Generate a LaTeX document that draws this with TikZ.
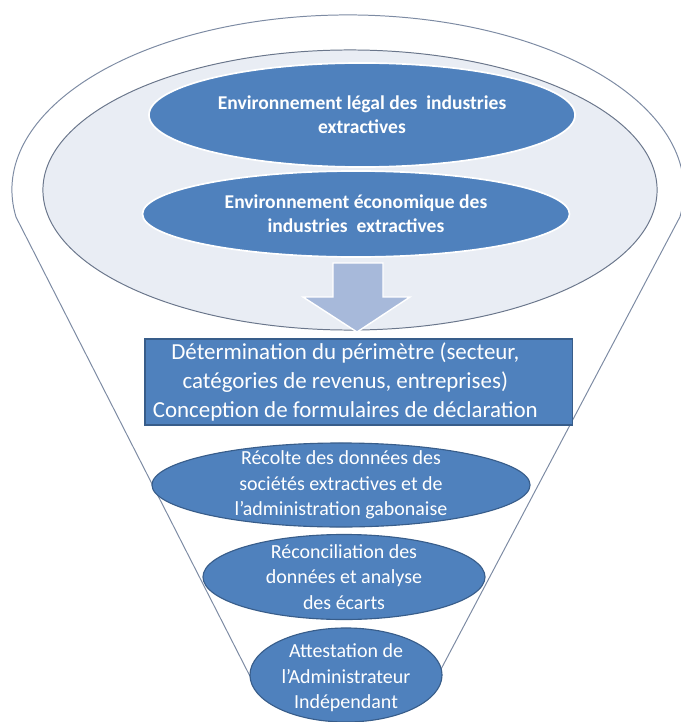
\documentclass[tikz,border=0pt]{standalone}
\usepackage{fontspec}
\setmainfont{Carlito}
\usetikzlibrary{shapes.geometric}
\definecolor{cblue}{HTML}{4F81BD}
\definecolor{cnavy}{HTML}{385D8A}
\definecolor{cpale}{HTML}{E9EDF4}
\definecolor{csteel}{HTML}{A7B9DA}
\definecolor{cgrey}{HTML}{7D8BA3}
\tikzset{
  oval/.style={ellipse, draw=cnavy, fill=cblue, line width=0.8pt, inner sep=0pt},
  bandoval/.style={oval, draw=white, line width=1.2pt},
  boxed/.style={rectangle, draw=cnavy, fill=cblue, line width=0.8pt, inner sep=0pt},
  headtext/.style={text=white, align=center, font=\fontsize{13.9}{17}\selectfont\bfseries},
  ovaltext/.style={text=white, align=center, font=\fontsize{14.2}{18.3}\selectfont},
  boxtext/.style={text=white, align=center, font=\fontsize{16.3}{20.5}\selectfont},
}

\begin{document}
\begin{tikzpicture}[x=0.025cm, y=-0.025cm]
  \useasboundingbox (0,0) rectangle (680,722);
  % funnel outline
  \draw[cgrey, line width=0.7pt] (257,690) -- (16,217)
    arc[start angle=171.1, end angle=368.9, x radius=336, y radius=175] -- (430,690);
  \node[ellipse, draw=cgrey!85!black, fill=cpale, line width=0.7pt, minimum width=15.35cm, minimum height=7cm] (band) at (350,190) {};
  \node[bandoval, minimum width=10.65cm, minimum height=2.6cm,
    label={[headtext]center:Environnement légal des\ \ industries\\extractives}] (legal) at (362,115) {};
  \node[bandoval, minimum width=10.675cm, minimum height=2.15cm,
    label={[headtext]center:Environnement économique des\\industries\ \ extractives}] (econ) at (356,214) {};
  \filldraw[fill=csteel, draw=white, line width=1pt] (333,263) -- (383,263) -- (383,297) -- (410,297)
    -- (357,332) -- (303,297) -- (333,297) -- cycle;
  \node[boxed, minimum width=10.675cm, minimum height=2.15cm,
    label={[boxtext, xshift=-0.33cm]center:Détermination du périmètre (secteur,\\catégories de revenus, entreprises)\\Conception de formulaires de déclaration}] (scope) at (358.5,382) {};
  \node[oval, minimum width=9.45cm, minimum height=2.1cm,
    label={[ovaltext]center:Récolte des données des\\sociétés extractives et de\\l’administration gabonaise}] (collect) at (341,485) {};
  \node[oval, minimum width=7.05cm, minimum height=2.125cm,
    label={[ovaltext]center:Réconciliation des\\données et analyse\\des écarts}] (reconcile) at (344,577) {};
  \node[oval, minimum width=4.8cm, minimum height=2.35cm,
    label={[ovaltext, yshift=-0.07cm]center:Attestation de\\l’Administrateur\\Indépendant}] (attest) at (346,675) {};
\end{tikzpicture}
\end{document}
